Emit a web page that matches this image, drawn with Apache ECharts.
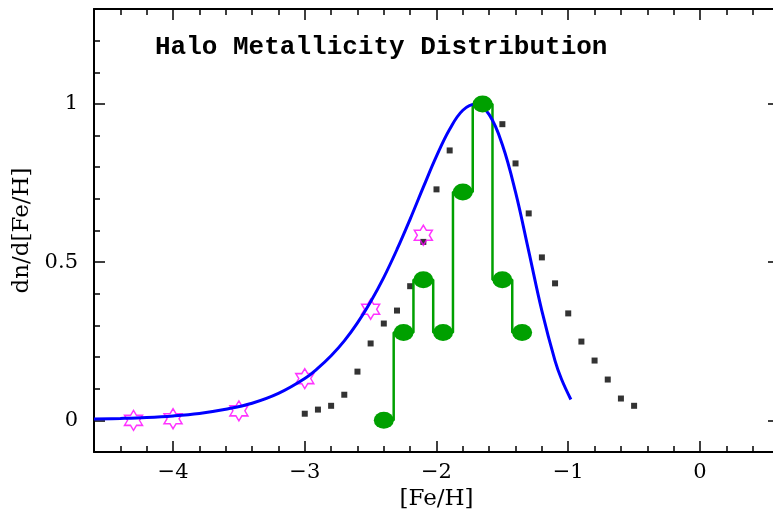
<!DOCTYPE html>
<html>
<head>
<meta charset="utf-8">
<script src="https://cdn.jsdelivr.net/npm/echarts@6/dist/echarts.min.js"></script>
<style>
  html, body { margin: 0; padding: 0; background: #fff; }
  #chart { width: 773px; height: 511px; }
</style>
</head>
<body>
<div id="chart"></div>
<script>
// model curve
var curveX = [-4.6,-4.4,-4.2,-4.0,-3.8,-3.6,-3.4,-3.2,-3.0,-2.9,-2.8,-2.7,-2.6,-2.5,-2.4,-2.3,-2.2,-2.1,-2.0,-1.9,-1.8,-1.7,-1.6,-1.5,-1.4,-1.3,-1.2,-1.1,-1.05,-0.98];
var curveY = [0.004,0.006,0.009,0.014,0.022,0.035,0.054,0.085,0.132,0.165,0.204,0.251,0.308,0.375,0.452,0.540,0.636,0.737,0.835,0.920,0.980,1.000,0.966,0.871,0.721,0.535,0.346,0.188,0.129,0.066];

// black squares
var sqX = [-3.0,-2.9,-2.8,-2.7,-2.6,-2.5,-2.4,-2.3,-2.2,-2.1,-2.0,-1.9,-1.5,-1.4,-1.3,-1.2,-1.1,-1.0,-0.9,-0.8,-0.7,-0.6,-0.5];
var sqY = [0.021,0.034,0.046,0.081,0.154,0.243,0.306,0.347,0.424,0.564,0.730,0.853,0.936,0.812,0.654,0.515,0.433,0.338,0.249,0.189,0.129,0.069,0.046];

// magenta stars
var starX = [-4.3,-4.0,-3.5,-3.0,-2.5,-2.1];
var starY = [0.0,0.005,0.03,0.132,0.351,0.585];

// green histogram
var binX = [-2.4,-2.25,-2.1,-1.95,-1.8,-1.65,-1.5,-1.35];
var binY = [0,0.278,0.444,0.278,0.722,1.0,0.444,0.278];

// ticks
var majorX = [-4,-3,-2,-1,0];
var xTickLabels = ['\u22124','\u22123','\u22122','\u22121','0'];
var majorY = [0,0.5,1];
var yTickLabels = ['0','0.5','1'];

function pairs(xs, ys){
    var out = [];
    for(var i=0;i<xs.length;i++){ out.push([xs[i], ys[i]]); }
    return out;
}
function minorTicks(lo, hi, step, majors){
    var out = [];
    for(var v=lo; v<=hi+1e-9; v+=step){
        var r = Math.round(v*10)/10;
        if(majors.indexOf(r) < 0) out.push(r);
    }
    return out;
}
var minorX = minorTicks(-4.4, 0.4, 0.2, majorX);
var minorY = minorTicks(0.1, 1.2, 0.1, majorY);

var font = 'DejaVu Serif';
var lineStyle = { color: '#000', width: 2 };

function xAx(pos, ticks, len, main){
    return {
        type: 'value', position: pos, min: -4.6, max: 0.6,
        axisLine: { show: main, onZero: false, lineStyle: lineStyle },
        axisTick: { inside: true, length: len, customValues: ticks, lineStyle: { color: '#000', width: 1.5 } },
        axisLabel: (main && pos === 'bottom') ? {
            customValues: majorX, margin: 10, color: '#000', fontFamily: font, fontSize: 21,
            formatter: function(v){ return xTickLabels[majorX.indexOf(Math.round(v))]; }
        } : { show: false },
        splitLine: { show: false },
        name: (main && pos === 'bottom') ? '[Fe/H]' : '',
        nameLocation: 'middle', nameGap: 35,
        nameTextStyle: { color: '#000', fontFamily: font, fontSize: 23 }
    };
}
function yAx(pos, ticks, len, main){
    return {
        type: 'value', position: pos, min: -0.1, max: 1.3,
        axisLine: { show: main, onZero: false, lineStyle: lineStyle },
        axisTick: { inside: true, length: len, customValues: ticks, lineStyle: { color: '#000', width: 1.5 } },
        axisLabel: (main && pos === 'left') ? {
            customValues: majorY, margin: 16, color: '#000', fontFamily: font, fontSize: 21,
            formatter: function(v){ return yTickLabels[majorY.indexOf(v)]; }
        } : { show: false },
        splitLine: { show: false },
        name: (main && pos === 'left') ? 'dn/d[Fe/H]' : '',
        nameLocation: 'middle', nameGap: 59,
        nameTextStyle: { color: '#000', fontFamily: font, fontSize: 23 }
    };
}

var star = 'path://M0,-10 L2.885,-5 L8.66,-5 L5.77,0 L8.66,5 L2.885,5 L0,10 L-2.885,5 L-8.66,5 L-5.77,0 L-8.66,-5 L-2.885,-5 Z';

var myChart = echarts.init(document.getElementById('chart'));
var option = {
    backgroundColor: '#fff',
    animation: false,
    title: {
        text: 'Halo Metallicity Distribution',
        left: 150, top: 29,
        textStyle: { color: '#000', fontFamily: 'Liberation Mono', fontWeight: 'bold', fontSize: 26 }
    },
    grid: { left: 94, top: 9, right: -6, bottom: 59, outerBoundsMode: 'none', containLabel: false },
    xAxis: [
        xAx('bottom', majorX, 11, true),
        xAx('bottom', minorX, 6, false),
        xAx('top', majorX, 11, true),
        xAx('top', minorX, 6, false)
    ],
    yAxis: [
        yAx('left', majorY, 11, true),
        yAx('left', minorY, 6, false),
        yAx('right', majorY, 11, true),
        yAx('right', minorY, 6, false)
    ],
    series: [
        {
            type: 'scatter', data: pairs(sqX, sqY),
            symbol: 'rect', symbolSize: [6, 6],
            itemStyle: { color: '#000' }
        },
        {
            type: 'line', data: pairs(binX, binY), step: 'middle',
            symbol: 'circle', symbolSize: [20, 17], showAllSymbol: true,
            lineStyle: { color: '#00a000', width: 2.5 },
            itemStyle: { color: '#00a000' }
        },
        {
            type: 'line', data: pairs(curveX, curveY), smooth: 0.4,
            showSymbol: false,
            lineStyle: { color: '#0000ff', width: 3 }
        },
        {
            type: 'scatter', data: pairs(starX, starY),
            symbol: star, symbolSize: [18, 20],
            itemStyle: { color: 'rgba(255,255,255,0)', borderColor: '#ff00ff', borderWidth: 1.5 }
        }
    ]
};
myChart.setOption(option);
</script>
</body>
</html>
